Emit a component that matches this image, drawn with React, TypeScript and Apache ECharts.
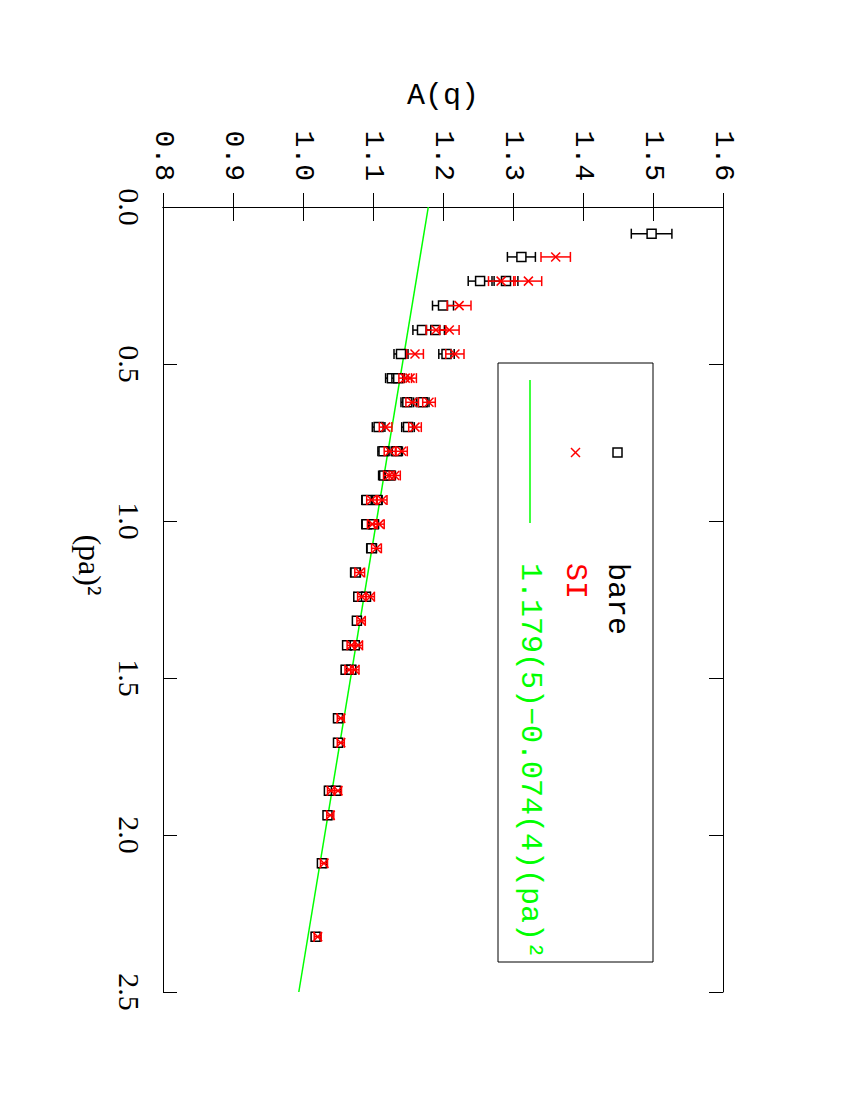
import React, { useEffect, useRef } from "react";
import * as echarts from "echarts";

// (pa)^2 positions and A(q) values
const pBare = [0.085, 0.159, 0.236, 0.236, 0.314, 0.392, 0.392, 0.468, 0.468, 0.545, 0.545, 0.622, 0.622, 0.701, 0.701, 0.778, 0.778, 0.855, 0.855, 0.933, 0.933, 1.010, 1.010, 1.087, 1.164, 1.241, 1.241, 1.318, 1.396, 1.396, 1.474, 1.474, 1.628, 1.706, 1.859, 1.859, 1.937, 2.090, 2.324];
const aBare = [1.498, 1.312, 1.253, 1.290, 1.200, 1.170, 1.189, 1.140, 1.205, 1.127, 1.136, 1.149, 1.171, 1.108, 1.150, 1.115, 1.134, 1.116, 1.124, 1.091, 1.106, 1.091, 1.101, 1.098, 1.075, 1.079, 1.090, 1.077, 1.063, 1.074, 1.061, 1.069, 1.050, 1.050, 1.037, 1.047, 1.035, 1.027, 1.018];
const eBare = [0.029, 0.020, 0.017, 0.017, 0.015, 0.013, 0.013, 0.010, 0.011, 0.009, 0.009, 0.009, 0.009, 0.009, 0.009, 0.008, 0.008, 0.008, 0.008, 0.007, 0.007, 0.007, 0.007, 0.007, 0.007, 0.006, 0.006, 0.006, 0.006, 0.006, 0.006, 0.006, 0.005, 0.005, 0.005, 0.005, 0.005, 0.005, 0.005];

const pSI = [0.159, 0.236, 0.236, 0.314, 0.392, 0.392, 0.468, 0.468, 0.545, 0.545, 0.622, 0.622, 0.701, 0.701, 0.778, 0.778, 0.855, 0.855, 0.933, 0.933, 1.010, 1.010, 1.087, 1.164, 1.241, 1.241, 1.318, 1.396, 1.396, 1.474, 1.474, 1.628, 1.706, 1.859, 1.859, 1.937, 2.090, 2.324];
const aSI = [1.361, 1.283, 1.322, 1.223, 1.190, 1.209, 1.160, 1.217, 1.146, 1.153, 1.156, 1.180, 1.118, 1.160, 1.124, 1.141, 1.123, 1.131, 1.098, 1.113, 1.099, 1.109, 1.105, 1.081, 1.084, 1.096, 1.083, 1.069, 1.079, 1.066, 1.074, 1.054, 1.054, 1.040, 1.050, 1.039, 1.030, 1.021];
const eSI = [0.021, 0.018, 0.019, 0.017, 0.014, 0.014, 0.012, 0.013, 0.009, 0.009, 0.009, 0.009, 0.009, 0.009, 0.008, 0.008, 0.008, 0.008, 0.007, 0.007, 0.007, 0.007, 0.007, 0.007, 0.006, 0.006, 0.006, 0.006, 0.006, 0.006, 0.006, 0.005, 0.005, 0.005, 0.005, 0.005, 0.005, 0.005];

// fit line endpoints: 1.179 - 0.074 (pa)^2
const fitP = [0, 2.5];
const fitA = [1.179, 0.994];

const xTicksMin = 0.8, xTicksMax = 1.6, xInterval = 0.1;
const yTicksMin = 0, yTicksMax = 2.5, yInterval = 0.5;

const legendLabels = ["bare", "SI", "1.179(5)\u22120.074(4)(pa)\u00b2"];

const BLACK = "#000000";
const RED = "#ff0000";
const GREEN = "#00ff00";

function makeRender(kind: "bare" | "si") {
  return (params: any, api: any) => {
    const a = api.value(0);
    const p = api.value(1);
    const e = api.value(2);
    const c = api.coord([a, p]);
    const lo = api.coord([a - e, p]);
    const hi = api.coord([a + e, p]);
    const color = kind === "bare" ? BLACK : RED;
    const cap = 5;
    const s = 4.5;
    const lw = 1.5;
    const children: any[] = [
      { type: "line", shape: { x1: lo[0], y1: c[1], x2: hi[0], y2: c[1] }, style: { stroke: color, lineWidth: lw } },
      { type: "line", shape: { x1: lo[0], y1: c[1] - cap, x2: lo[0], y2: c[1] + cap }, style: { stroke: color, lineWidth: lw } },
      { type: "line", shape: { x1: hi[0], y1: c[1] - cap, x2: hi[0], y2: c[1] + cap }, style: { stroke: color, lineWidth: lw } },
    ];
    if (kind === "bare") {
      children.push({ type: "rect", shape: { x: c[0] - s, y: c[1] - s, width: 2 * s, height: 2 * s }, style: { fill: "#ffffff", stroke: color, lineWidth: lw } });
    } else {
      children.push({ type: "line", shape: { x1: c[0] - s, y1: c[1] - s, x2: c[0] + s, y2: c[1] + s }, style: { stroke: color, lineWidth: lw } });
      children.push({ type: "line", shape: { x1: c[0] - s, y1: c[1] + s, x2: c[0] + s, y2: c[1] - s }, style: { stroke: color, lineWidth: lw } });
    }
    return { type: "group", children };
  };
}

export default function App() {
  const ref = useRef<HTMLDivElement>(null);
  useEffect(() => {
    if (!ref.current) return;
    const chart = echarts.init(ref.current, null, { renderer: "svg" });
    const bareData = pBare.map((p, i) => [aBare[i], p, eBare[i]]);
    const siData = pSI.map((p, i) => [aSI[i], p, eSI[i]]);
    const fitData = fitP.map((p, i) => [fitA[i], p]);
    const tickFont = { fontFamily: "Liberation Mono", fontSize: 28, color: BLACK };
    const rot = -Math.PI / 2;
    chart.setOption({
      animation: false,
      backgroundColor: "#ffffff",
      grid: { left: 163, top: 207, right: 127, bottom: 108, containLabel: false },
      xAxis: [
        {
          type: "value", position: "top", min: xTicksMin, max: xTicksMax, interval: xInterval,
          name: "A(q)", nameLocation: "middle", nameGap: 96,
          nameTextStyle: { fontFamily: "Liberation Mono", fontSize: 30, color: BLACK },
          axisLine: { show: true, lineStyle: { color: BLACK, width: 1 } },
          axisTick: { show: true, inside: true, length: 14, lineStyle: { color: BLACK } },
          axisLabel: { rotate: -90, margin: 26, formatter: (v: number) => v.toFixed(1), ...tickFont },
          splitLine: { show: false },
        },
        {
          type: "value", position: "bottom", min: xTicksMin, max: xTicksMax, interval: xInterval,
          axisLine: { show: true, lineStyle: { color: BLACK, width: 1 } },
          axisTick: { show: true, inside: true, length: 14, lineStyle: { color: BLACK } },
          axisLabel: { show: false },
          splitLine: { show: false },
        },
      ],
      yAxis: [
        {
          type: "value", position: "left", inverse: true, min: yTicksMin, max: yTicksMax, interval: yInterval,
          axisLine: { show: true, lineStyle: { color: BLACK, width: 1 } },
          axisTick: { show: true, inside: true, length: 14, lineStyle: { color: BLACK } },
          axisLabel: { rotate: -90, margin: 19, formatter: (v: number) => v.toFixed(1), fontFamily: "Liberation Serif", fontSize: 30, color: BLACK },
          splitLine: { show: false },
        },
        {
          type: "value", position: "right", inverse: true, min: yTicksMin, max: yTicksMax, interval: yInterval,
          axisLine: { show: true, lineStyle: { color: BLACK, width: 1 } },
          axisTick: { show: true, inside: true, length: 14, lineStyle: { color: BLACK } },
          axisLabel: { show: false },
          splitLine: { show: false },
        },
      ],
      series: [
        {
          type: "line", data: fitData, xAxisIndex: 0, yAxisIndex: 0, showSymbol: false, symbol: "none",
          lineStyle: { color: GREEN, width: 1.5 }, z: 1,
        },
        { type: "custom", data: bareData, xAxisIndex: 0, yAxisIndex: 0, encode: { x: 0, y: 1 }, renderItem: makeRender("bare"), z: 2 },
        { type: "custom", data: siData, xAxisIndex: 0, yAxisIndex: 0, encode: { x: 0, y: 1 }, renderItem: makeRender("si"), z: 3 },
      ],
      graphic: [
        { type: "text", x: 90, y: 565, rotation: rot, style: { text: "(pa)\u00b2", fontFamily: "Liberation Serif", fontSize: 32, fill: BLACK, align: "center", verticalAlign: "middle" } },
        { type: "rect", shape: { x: 498, y: 363, width: 155, height: 599 }, style: { fill: "none", stroke: BLACK, lineWidth: 1 } },
        { type: "rect", shape: { x: 613, y: 448, width: 9, height: 9 }, style: { fill: "#ffffff", stroke: BLACK, lineWidth: 1.5 } },
        { type: "line", shape: { x1: 571, y1: 448, x2: 580, y2: 457 }, style: { stroke: RED, lineWidth: 1.5 } },
        { type: "line", shape: { x1: 571, y1: 457, x2: 580, y2: 448 }, style: { stroke: RED, lineWidth: 1.5 } },
        { type: "line", shape: { x1: 530, y1: 380, x2: 530, y2: 523 }, style: { stroke: GREEN, lineWidth: 1.5 } },
        { type: "text", x: 617, y: 563, rotation: rot, style: { text: legendLabels[0], fontFamily: "Liberation Mono", fontSize: 30, fill: BLACK, align: "left", verticalAlign: "middle" } },
        { type: "text", x: 575, y: 563, rotation: rot, style: { text: legendLabels[1], fontFamily: "Liberation Mono", fontSize: 30, fill: RED, align: "left", verticalAlign: "middle" } },
        { type: "text", x: 530, y: 563, rotation: rot, style: { text: legendLabels[2], fontFamily: "Liberation Mono", fontSize: 30, fill: GREEN, align: "left", verticalAlign: "middle" } },
      ],
    });
    return () => chart.dispose();
  }, []);
  return <div ref={ref} style={{ position: "absolute", left: 0, top: 0, width: 850, height: 1100 }} />;
}
